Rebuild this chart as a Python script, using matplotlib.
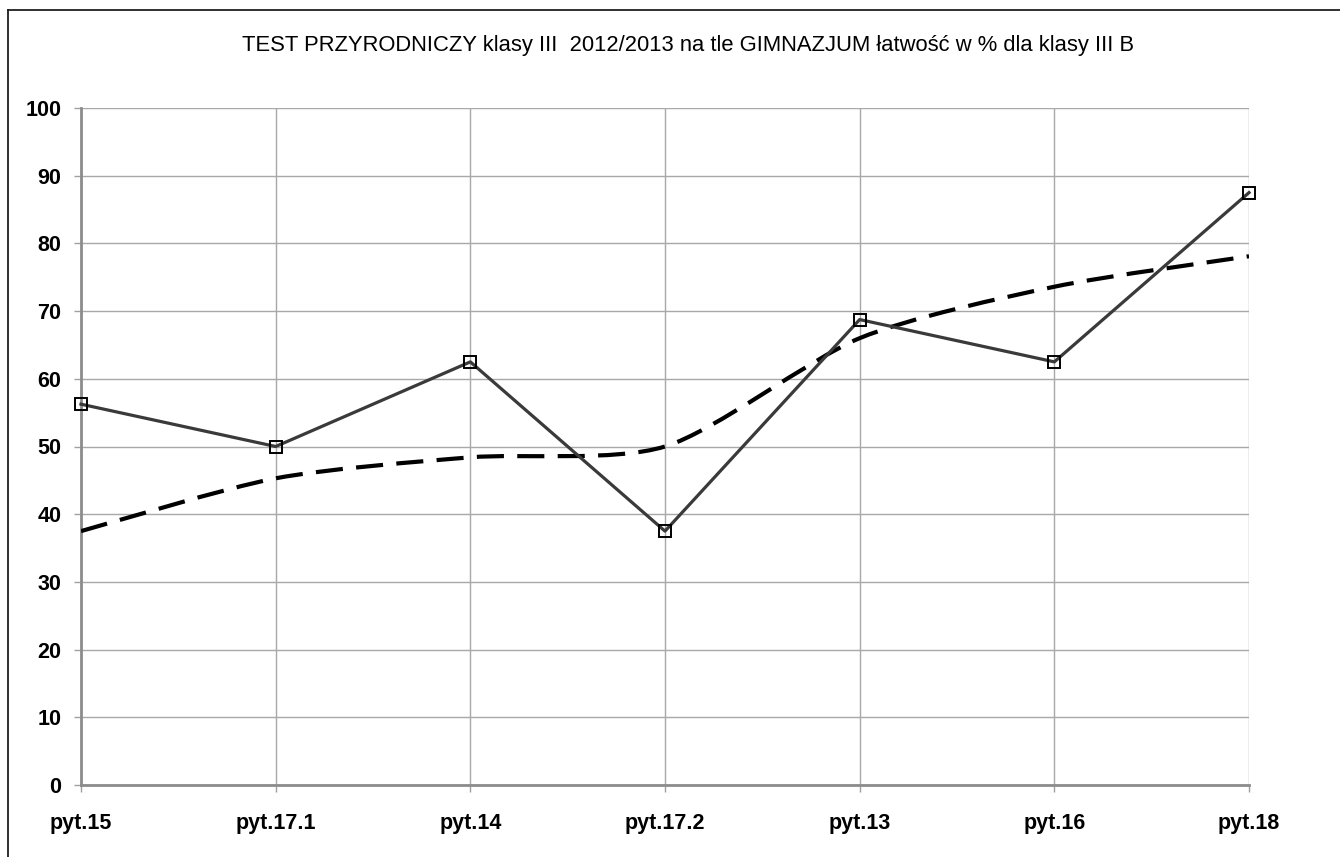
import matplotlib
matplotlib.use("Agg")
import matplotlib.pyplot as plt
import numpy as np
from matplotlib.path import Path
from matplotlib.patches import PathPatch
from matplotlib.lines import Line2D

# ---- data
questions = ["pyt.15", "pyt.17.1", "pyt.14", "pyt.17.2", "pyt.13", "pyt.16", "pyt.18"]
class_3b = [56.25, 50.0, 62.5, 37.5, 68.75, 62.5, 87.5]
school = [37.5, 45.3, 48.4, 50.0, 66.0, 73.6, 78.1]
y_ticks = [0, 10, 20, 30, 40, 50, 60, 70, 80, 90, 100]

TITLE = "TEST PRZYRODNICZY klasy III  2012/2013 na tle GIMNAZJUM łatwość w % dla klasy III B"

plt.rcParams["font.family"] = ["Liberation Sans", "DejaVu Sans"]


def smooth_path(xs, ys, tension=0.13):
    """Catmull-Rom style bezier path through the points (rendering only)."""
    pts = np.column_stack([xs, ys]).astype(float)
    verts = [pts[0]]
    codes = [Path.MOVETO]
    n = len(pts)
    for i in range(n - 1):
        p0 = pts[i - 1] if i > 0 else pts[i]
        p1 = pts[i]
        p2 = pts[i + 1]
        p3 = pts[i + 2] if i + 2 < n else pts[i + 1]
        c1 = p1 + (p2 - p0) * tension
        c2 = p2 - (p3 - p1) * tension
        verts += [c1, c2, p2]
        codes += [Path.CURVE4] * 3
    return Path(verts, codes)


fig = plt.figure(figsize=(13.4, 8.57), dpi=100)
ax = fig.add_axes([81 / 1340, 1 - 785 / 857, 1168 / 1340, 677 / 857])

x = np.arange(len(questions))

# school average - smoothed dashed line
patch = PathPatch(smooth_path(x, school), facecolor="none", edgecolor="black",
                  lw=3.0, linestyle=(0, (6.5, 3.2)), capstyle="butt", zorder=3)
ax.add_patch(patch)

# class III B
ax.plot(x, class_3b, color="#3a3a3a", lw=2.3, zorder=4, clip_on=False)
ax.plot(x, class_3b, linestyle="none", marker="s", markersize=9,
        markerfacecolor="none", markeredgecolor="black", markeredgewidth=1.4,
        zorder=5, clip_on=False)

ax.set_xlim(0, len(questions) - 1)
ax.set_ylim(0, 100)
ax.set_yticks(y_ticks)
ax.set_xticks(x)
ax.set_xticklabels(questions)
ax.grid(True, color="#a8a8a8", lw=1.0)
ax.set_axisbelow(True)

for s in ["top", "right"]:
    ax.spines[s].set_visible(False)
for s in ["left", "bottom"]:
    ax.spines[s].set_color("#8c8c8c")
    ax.spines[s].set_linewidth(2.0)

ax.tick_params(axis="both", colors="#a0a0a0", length=5, width=1.0, labelcolor="black")
ax.tick_params(axis="y", pad=9, labelsize=15.5)
ax.tick_params(axis="x", pad=15, labelsize=15.5)
for lab in ax.get_xticklabels() + ax.get_yticklabels():
    lab.set_fontweight("bold")

fig.text(688 / 1340, 1 - 45 / 857, TITLE, ha="center", va="center", fontsize=15.8)

# outer chart frame (left and top visible)
fig.add_artist(Line2D([8 / 1340, 8 / 1340], [0, 1 - 10 / 857], transform=fig.transFigure,
                      color="#202020", lw=1.3))
fig.add_artist(Line2D([8 / 1340, 1], [1 - 10 / 857, 1 - 10 / 857], transform=fig.transFigure,
                      color="#202020", lw=1.3))

fig.savefig("out.png", dpi=100)
